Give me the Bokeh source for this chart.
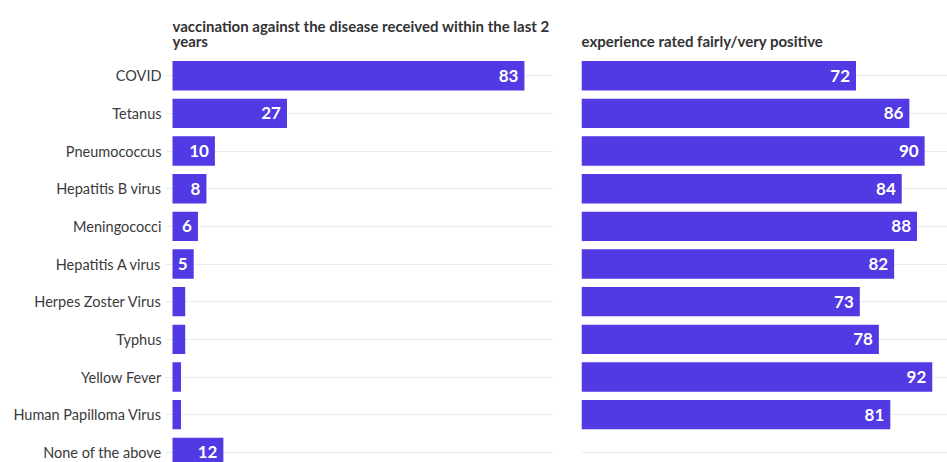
from bokeh.plotting import figure
from bokeh.layouts import row, column
from bokeh.models import ColumnDataSource, FixedTicker, Range1d
from bokeh.core.properties import value
from bokeh.embed import file_html
from bokeh.resources import INLINE

categories = ["COVID", "Tetanus", "Pneumococcus", "Hepatitis B virus", "Meningococci",
              "Hepatitis A virus", "Herpes Zoster Virus", "Typhus", "Yellow Fever",
              "Human Papilloma Virus", "None of the above"]
vaccinated = [83, 27, 10, 8, 6, 5, 3, 3, 2, 2, 12]
positive_categories = categories[:10]
positive = [72, 86, 90, 84, 88, 82, 73, 78, 92, 81]

title_left = ["vaccination against the disease received within the last 2", "years"]
title_right = ["experience rated fairly/very positive"]

BAR = "#5139E4"
GRID = "#ebebeb"
FONT = "Lato"
FRAME_H = 406
HEAD_H = 56
W = 947

idx = {c: i for i, c in enumerate(categories)}
y_top, y_bot = -0.51, 10.27

# ---- header with the two panel titles (pixel coordinates) ----
head = figure(width=W, height=HEAD_H, output_backend="svg", toolbar_location=None,
              x_range=Range1d(0, W), y_range=Range1d(HEAD_H, 0),
              x_axis_location=None, y_axis_location=None,
              min_border_left=0, min_border_right=0, min_border_top=0, min_border_bottom=0)
head.outline_line_color = None
head.xgrid.visible = False
head.ygrid.visible = False
hx, hy, ht = [], [], []
for lines, x0 in ((title_left, 172), (title_right, 581)):
    n = len(lines)
    for k, line in enumerate(lines):
        hx.append(x0)
        hy.append(40.5 - 15 * (n - 1 - k))
        ht.append(line)
head.text(x="x", y="y", text="t", source=ColumnDataSource(dict(x=hx, y=hy, t=ht)),
          text_align="left", text_baseline="alphabetic", text_color="#333333",
          text_font=value(FONT), text_font_size="15px", text_font_style="bold")


def make_fig(cats, vals, x_end, x_start, frame_w, border_l, border_r, show_axis, min_label):
    p = figure(frame_width=frame_w, frame_height=FRAME_H, output_backend="svg", toolbar_location=None,
               x_range=Range1d(x_start, x_end), y_range=Range1d(y_bot, y_top),
               x_axis_location=None, y_axis_location="left" if show_axis else None,
               min_border_left=border_l, min_border_right=border_r, min_border_top=0,
               min_border_bottom=0)
    p.outline_line_color = None
    p.background_fill_color = "white"
    p.border_fill_color = "white"
    p.xgrid.visible = False
    p.ygrid.ticker = FixedTicker(ticks=list(range(len(categories))))
    p.ygrid.grid_line_color = GRID
    p.ygrid.grid_line_width = 1

    ys = [idx[c] for c in cats]
    src = ColumnDataSource(dict(y=ys, v=vals))
    p.hbar(y="y", right="v", left=0, height=0.78, source=src, fill_color=BAR, line_color=None)

    lab = [i for i, v in enumerate(vals) if v >= min_label]
    lsrc = ColumnDataSource(dict(y=[ys[i] for i in lab], v=[vals[i] for i in lab],
                                 t=[str(vals[i]) for i in lab]))
    p.text(x="v", y="y", text="t", source=lsrc, x_offset=-6, text_align="right",
           text_baseline="middle", text_color="white", text_font=value(FONT),
           text_font_size="17px", text_font_style="bold")

    if show_axis:
        ax = p.yaxis[0]
        ax.ticker = FixedTicker(ticks=list(range(len(categories))))
        ax.major_label_overrides = {i: c for i, c in enumerate(categories)}
        ax.axis_line_color = None
        ax.major_tick_line_color = None
        ax.minor_tick_line_color = None
        ax.major_tick_out = 0
        ax.major_tick_in = 0
        ax.major_label_standoff = 4
        ax.major_label_text_font = FONT
        ax.major_label_text_font_size = "14.5px"
        ax.major_label_text_color = "#3a3a3a"
    return p


p1 = make_fig(categories, vaccinated, 89.86, -1.65, 388, 165, 7, True, 5)
p2 = make_fig(positive_categories, positive, 96.0, 0, 366, 21, 0, False, 5)

layout = column(head, row(p1, p2), spacing=0)
open("out.html", "w").write(file_html(layout, INLINE))
